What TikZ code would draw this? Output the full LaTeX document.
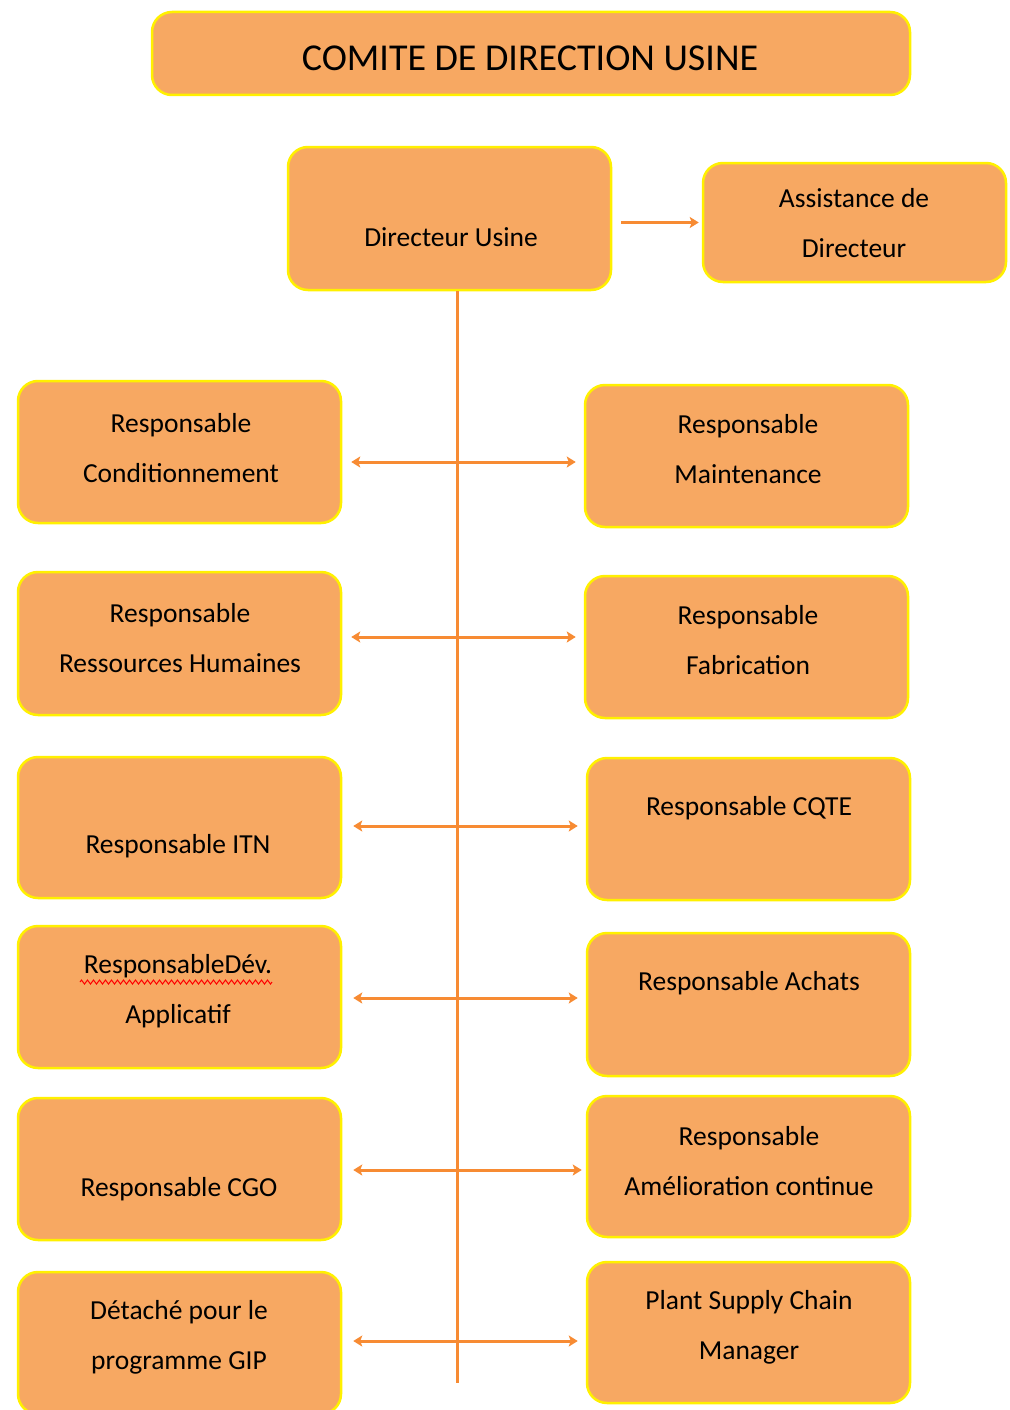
\documentclass[tikz,border=0pt]{standalone}
\usepackage{fontspec}
\setmainfont{Carlito}
\usetikzlibrary{arrows.meta,decorations.pathmorphing}
\definecolor{boxfill}{RGB}{247,168,98}
\definecolor{boxedge}{RGB}{255,240,0}
\definecolor{linkcol}{RGB}{247,139,51}
\begin{document}
\begin{tikzpicture}[x=1pt,y=-1pt,
  orgbox/.style={draw=boxedge,line width=2.5pt,fill=boxfill,rounded corners=20pt,
    inner sep=0pt,minimum width=323pt},
  lbl/.style={font=\fontsize{27.5}{50}\selectfont,align=center,inner sep=0pt},
  link/.style={draw=linkcol,line width=3pt},
  tip/.style={-{Stealth[length=9pt,width=11pt,inset=2pt]}},
  both/.style={{Stealth[length=9pt,width=11pt,inset=2pt]}-{Stealth[length=9pt,width=11pt,inset=2pt]}},
  squiggle/.style={draw=red,line width=1pt,decorate,
    decoration={zigzag,segment length=6pt,amplitude=2pt}}]
\useasboundingbox (0,0) rectangle (1009,1410);

% header and management
\node[orgbox,minimum width=758pt,minimum height=83pt] (title) at (531,53.5) {};
\node[font=\fontsize{38}{44}\selectfont,inner sep=0pt] (titletxt) at (530,58) {COMITE DE DIRECTION USINE};

\node[orgbox,minimum height=143pt] (dir) at (449.5,218.5) {};
\node[lbl] (dirtxt) at (451,237) {Directeur Usine};

\node[orgbox,minimum width=303pt,minimum height=119pt] (ast) at (854.5,222.5) {};
\node[lbl] (asttxt) at (854,223) {Assistance de\\Directeur};

% left column
\node[orgbox,minimum height=142pt] (l1) at (179.5,452) {};
\node[lbl] (l1txt) at (181,448) {Responsable\\Conditionnement};
\node[orgbox,minimum height=143pt] (l2) at (179.5,643.5) {};
\node[lbl] (l2txt) at (180,638) {Responsable\\Ressources Humaines};
\node[orgbox,minimum height=141pt] (l3) at (179.5,827.5) {};
\node[lbl] (l3txt) at (178,846) {Responsable ITN};
\node[orgbox,minimum height=142pt] (l4) at (179.5,997) {};
\node[lbl] (l4txt) at (178,991) {ResponsableDév.\\Applicatif};
\node[orgbox,minimum height=142pt] (l5) at (179.5,1169) {};
\node[lbl] (l5txt) at (179,1189) {Responsable CGO};
\node[orgbox,minimum height=142pt] (l6) at (179.5,1343) {};
\node[lbl] (l6txt) at (179,1337) {Détaché pour le\\programme GIP};

% right column
\node[orgbox,minimum height=142pt] (r1) at (746.5,456) {};
\node[lbl] (r1txt) at (748,449) {Responsable\\Maintenance};
\node[orgbox,minimum height=142pt] (r2) at (746.5,647) {};
\node[lbl] (r2txt) at (748,640) {Responsable\\Fabrication};
\node[orgbox,minimum height=142pt] (r3) at (748.5,829) {};
\node[lbl] (r3txt) at (749,808) {Responsable CQTE};
\node[orgbox,minimum height=143pt] (r4) at (748.5,1004.5) {};
\node[lbl] (r4txt) at (749,983) {Responsable Achats};
\node[orgbox,minimum height=141pt] (r5) at (748.5,1166.5) {};
\node[lbl] (r5txt) at (749,1161) {Responsable\\Amélioration continue};
\node[orgbox,minimum height=141pt] (r6) at (748.5,1332.5) {};
\node[lbl] (r6txt) at (749,1327) {Plant Supply Chain\\Manager};

% spell-check mark under the first line of l4
\coordinate (sqA) at (80,982);
\coordinate (sqB) at (272,982);
\draw[squiggle] (sqA) -- (sqB);

% spine and branches
\coordinate (spineEnd) at (457,1383);
\draw[link] (dir.south -| spineEnd) -- (spineEnd);
\draw[link,tip,shorten <=9pt,shorten >=3pt] (dir.east |- ast.west) -- (ast.west);

\coordinate (j1) at (457,462);
\coordinate (j2) at (457,637);
\coordinate (j3) at (457,826);
\coordinate (j4) at (457,998);
\coordinate (j5) at (457,1170);
\coordinate (j6) at (457,1341);
\draw[link,both,shorten <=9pt,shorten >=8pt] (l1.east |- j1) -- (r1.west |- j1);
\draw[link,both,shorten <=9pt,shorten >=8pt] (l2.east |- j2) -- (r2.west |- j2);
\draw[link,both,shorten <=11pt,shorten >=8pt] (l3.east |- j3) -- (r3.west |- j3);
\draw[link,both,shorten <=11pt,shorten >=8pt] (l4.east |- j4) -- (r4.west |- j4);
\draw[link,both,shorten <=11pt,shorten >=4pt] (l5.east |- j5) -- (r5.west |- j5);
\draw[link,both,shorten <=11pt,shorten >=8pt] (l6.east |- j6) -- (r6.west |- j6);
\end{tikzpicture}
\end{document}
